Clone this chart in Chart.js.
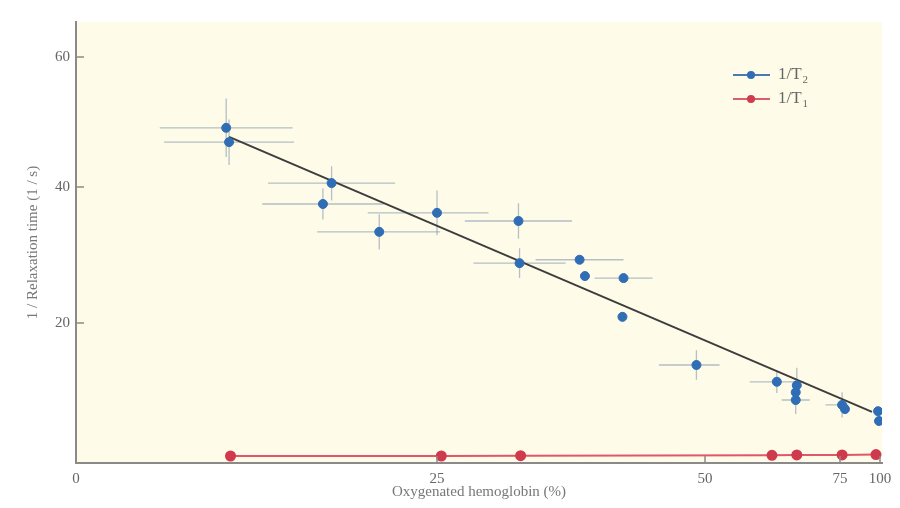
<!DOCTYPE html>
<html>
<head>
<meta charset="utf-8">
<script src="https://cdn.jsdelivr.net/npm/chart.js@4.4.1/dist/chart.umd.min.js"></script>
<style>
  body { margin: 0; background: #fff; }
  canvas { display: block; }
</style>
</head>
<body>
<canvas id="relaxChart" width="900" height="508"></canvas>
<script>
// 1/T2 measurements (with error ranges) and 1/T1 measurements
const t2X    = [10.4, 10.6, 17.7, 17.1, 21.0, 25.0, 32.6, 32.7, 38.3, 38.8, 42.4, 42.3, 49.2, 63.3, 67.0, 66.8, 66.8, 76.3, 78.1, 98.8, 99.4];
const t2Y    = [49.1, 46.9, 40.6, 37.5, 33.4, 36.2, 35.0, 28.8, 29.3, 26.9, 26.6, 20.9, 14.0, 11.6, 11.1, 10.1, 9.0, 8.3, 7.7, 7.4, 6.0];
const t2XErr = [4.6, 4.5, 4.4, 4.2, 4.3, 4.8, 5.0, 4.3, 4.1, 0, 2.7, 0, 3.5, 5.0, 0, 0, 2.6, 4.0, 0, 0, 0];
const t2YErr = [4.5, 3.5, 2.6, 2.3, 2.6, 3.3, 2.6, 2.2, 0, 0, 0, 0, 2.1, 1.6, 2.5, 0, 2.0, 1.8, 0, 0, 0];

const t1X = [10.7, 25.4, 32.8, 62.4, 67.0, 76.3, 97.5];
const t1Y = [1.0, 1.0, 1.05, 1.1, 1.15, 1.15, 1.2];

// straight fit through the 1/T2 points
const fitX = [10.6, 95];
const fitY = [47.7, 7.3];

const xTicks = [0, 25, 50, 75, 100];
const yTicks = [20, 40, 60];

// the axes are drawn unevenly spaced: [value, fraction of axis length]
const xStops = [[0, 0], [25, 0.4479], [50, 0.7804], [75, 0.9479], [100, 0.9975], [101, 1]];
const yStops = [[0, 0], [20, 0.3175], [40, 0.6259], [60, 0.9206], [65.4, 1]];

class StretchScale extends Chart.LinearScale {
  static id = 'stretch';
  static defaults = Chart.LinearScale.defaults;

  toFraction(v) {
    const s = this.options.stops;
    if (v <= s[0][0]) return s[0][1];
    for (let i = 1; i < s.length; i++) {
      if (v <= s[i][0]) {
        const t = (v - s[i - 1][0]) / (s[i][0] - s[i - 1][0]);
        return s[i - 1][1] + t * (s[i][1] - s[i - 1][1]);
      }
    }
    return s[s.length - 1][1];
  }
  getPixelForValue(value) {
    return this.getPixelForDecimal(this.toFraction(value));
  }
  getValueForPixel(pixel) {
    const f = this.getDecimalForPixel(pixel);
    const s = this.options.stops;
    for (let i = 1; i < s.length; i++) {
      if (f <= s[i][1]) {
        const t = (f - s[i - 1][1]) / (s[i][1] - s[i - 1][1]);
        return s[i - 1][0] + t * (s[i][0] - s[i - 1][0]);
      }
    }
    return s[s.length - 1][0];
  }
}
Chart.register(StretchScale);

const serif = "'Liberation Serif', 'DejaVu Serif', serif";
const blue = '#2f6db5';
const red = '#cf3a4c';

const plotBackground = {
  id: 'plotBackground',
  beforeDraw(chart) {
    const { ctx, chartArea: a } = chart;
    ctx.save();
    ctx.fillStyle = '#fefce9';
    ctx.fillRect(a.left, a.top, a.right - a.left, a.bottom - a.top);
    ctx.restore();
  }
};

const errorBars = {
  id: 'errorBars',
  beforeDatasetsDraw(chart) {
    const { ctx, scales: { x, y } } = chart;
    ctx.save();
    ctx.strokeStyle = 'rgba(120, 142, 165, 0.55)';
    ctx.lineWidth = 1.3;
    t2X.forEach((vx, i) => {
      const px = x.getPixelForValue(vx);
      const py = y.getPixelForValue(t2Y[i]);
      ctx.beginPath();
      if (t2XErr[i]) {
        ctx.moveTo(x.getPixelForValue(vx - t2XErr[i]), py);
        ctx.lineTo(x.getPixelForValue(vx + t2XErr[i]), py);
      }
      if (t2YErr[i]) {
        ctx.moveTo(px, y.getPixelForValue(t2Y[i] - t2YErr[i]));
        ctx.lineTo(px, y.getPixelForValue(t2Y[i] + t2YErr[i]));
      }
      ctx.stroke();
    });
    ctx.restore();
  }
};

// small ticks pointing into the plot, plus the legend
const extras = {
  id: 'extras',
  afterDraw(chart) {
    const { ctx, scales: { x, y } } = chart;
    ctx.save();
    ctx.strokeStyle = '#8a8a8a';
    ctx.lineWidth = 1.5;
    yTicks.forEach(v => {
      const py = y.getPixelForValue(v);
      ctx.beginPath();
      ctx.moveTo(x.left, py);
      ctx.lineTo(x.left + 8, py);
      ctx.stroke();
    });
    xTicks.slice(1).forEach(v => {
      const px = x.getPixelForValue(v);
      ctx.beginPath();
      ctx.moveTo(px, y.bottom);
      ctx.lineTo(px, y.bottom - 7);
      ctx.stroke();
    });

    const entries = [
      { sub: '2', color: blue, line: '#4a7ab0', y: 75 },
      { sub: '1', color: red, line: '#d8606e', y: 99 }
    ];
    entries.forEach(e => {
      ctx.strokeStyle = e.line;
      ctx.lineWidth = 2;
      ctx.beginPath();
      ctx.moveTo(733, e.y);
      ctx.lineTo(770, e.y);
      ctx.stroke();
      ctx.fillStyle = e.color;
      ctx.beginPath();
      ctx.arc(751, e.y, 4, 0, Math.PI * 2);
      ctx.fill();
      ctx.fillStyle = '#666';
      ctx.textBaseline = 'middle';
      ctx.font = '17px ' + serif;
      ctx.fillText('1/T', 778, e.y);
      const w = ctx.measureText('1/T').width;
      ctx.font = '11px ' + serif;
      ctx.fillText(e.sub, 778 + w + 1, e.y + 5);
    });
    ctx.restore();
  }
};

const toPoints = (xs, ys) => xs.map((v, i) => ({ x: v, y: ys[i] }));

new Chart(document.getElementById('relaxChart'), {
  type: 'scatter',
  data: {
    datasets: [
      {
        label: '1/T2',
        data: toPoints(t2X, t2Y),
        backgroundColor: blue,
        borderColor: blue,
        pointRadius: 4.5,
        order: 0
      },
      {
        label: '1/T1',
        data: toPoints(t1X, t1Y),
        showLine: true,
        borderColor: '#e05767',
        borderWidth: 2,
        backgroundColor: red,
        pointBackgroundColor: red,
        pointBorderColor: red,
        pointRadius: 4.5,
        order: 1
      },
      {
        label: 'fit',
        data: toPoints(fitX, fitY),
        showLine: true,
        borderColor: '#3d3d3d',
        borderWidth: 2,
        pointRadius: 0,
        order: 2
      }
    ]
  },
  options: {
    responsive: false,
    animation: false,
    layout: { padding: { left: 24, right: 18, top: 22, bottom: 7 } },
    plugins: {
      legend: { display: false },
      tooltip: { enabled: false }
    },
    scales: {
      x: {
        type: 'stretch',
        stops: xStops,
        min: 0,
        max: 101,
        afterBuildTicks: s => { s.ticks = xTicks.map(v => ({ value: v })); },
        afterFit: s => { s.height = 38; },
        grid: { display: false, drawTicks: false },
        border: { display: true, color: '#8a8a8a', width: 2 },
        ticks: { padding: 7, color: '#666', font: { family: serif, size: 15 } },
        title: {
          display: true,
          text: 'Oxygenated hemoglobin (%)',
          color: '#777',
          padding: 0,
          font: { family: serif, size: 15 }
        }
      },
      y: {
        type: 'stretch',
        stops: yStops,
        min: 0,
        max: 65.4,
        afterBuildTicks: s => { s.ticks = yTicks.map(v => ({ value: v })); },
        afterFit: s => { s.width = 52; },
        grid: { display: false, drawTicks: false },
        border: { display: true, color: '#8a8a8a', width: 2 },
        ticks: { padding: 6, color: '#666', font: { family: serif, size: 15 } },
        title: {
          display: true,
          text: '1 / Relaxation time (1 / s)',
          color: '#777',
          padding: 0,
          font: { family: serif, size: 15 }
        }
      }
    }
  },
  plugins: [plotBackground, errorBars, extras]
});
</script>
</body>
</html>
